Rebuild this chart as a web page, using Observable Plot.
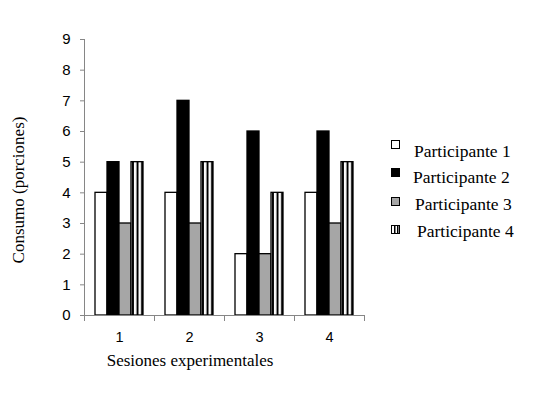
<!DOCTYPE html>
<html><head><meta charset="utf-8">
<script src="https://cdn.jsdelivr.net/npm/d3@7"></script>
<script src="https://cdn.jsdelivr.net/npm/@observablehq/plot@0.6"></script>
<style>
body{margin:0;background:#fff;}
#wrap{position:relative;width:552px;height:395px;overflow:hidden;}
#wrap svg{position:absolute;left:0;top:0;}
.ttl{position:absolute;font-family:"Liberation Serif","Times New Roman",serif;font-size:17px;color:#000;white-space:nowrap;line-height:1;}
.leg{position:absolute;font-family:"Liberation Serif","Times New Roman",serif;font-size:17.5px;color:#000;white-space:nowrap;line-height:1;}
.sw{position:absolute;}
</style></head><body><div id="wrap"></div>
<script>
const sessions = ["1", "2", "3", "4"];
const participants = ["Participante 1", "Participante 2", "Participante 3", "Participante 4"];
const p1 = [4, 4, 2, 4];
const p2 = [5, 7, 6, 6];
const p3 = [3, 3, 2, 3];
const p4 = [5, 5, 4, 5];
const yTicks = [0, 1, 2, 3, 4, 5, 6, 7, 8, 9];
const xTitle = "Sesiones experimentales";
const yTitle = "Consumo (porciones)";

const series = [p1, p2, p3, p4];
const data = sessions.flatMap((s, i) => participants.map((p, j) => ({session: s, participant: p, value: series[j][i]})));
const fills = ["white", "black", "#a6a6a6", "url(#stripes)"];
const axisGray = "#868686";

const plot = Plot.plot({
  width: 552, height: 395,
  marginLeft: 84, marginRight: 188, marginTop: 39, marginBottom: 80,
  style: {fontFamily: "'Liberation Sans', Arial, sans-serif", background: "transparent"},
  fx: {domain: sessions, paddingInner: 0, paddingOuter: 0, label: null},
  x: {domain: participants, paddingInner: 0, paddingOuter: 0.7, axis: null},
  y: {domain: [0, 9], label: null},
  color: {domain: participants, range: fills},
  marks: [
    Plot.barY(data, {fx: "session", x: "participant", y: "value", fill: "participant", stroke: "black", strokeWidth: 1.3}),
    Plot.ruleY([0], {stroke: axisGray, strokeWidth: 1}),
    Plot.frame({anchor: "left", facetAnchor: "left", stroke: axisGray}),
    Plot.frame({anchor: "left", stroke: axisGray, insetTop: 276, insetBottom: -5}),
    Plot.frame({anchor: "right", stroke: axisGray, insetTop: 276, insetBottom: -5}),
    Plot.axisY({ticks: yTicks, tickSize: 4, tickPadding: 10, fontSize: 15, stroke: axisGray, fill: "#000", label: null}),
    Plot.axisFx({anchor: "bottom", tickSize: 0, tickPadding: 16, fontSize: 14.5, fill: "#000", label: null})
  ]
});

const wrap = document.getElementById("wrap");
// pattern for striped bars
const ns = "http://www.w3.org/2000/svg";
const defs = document.createElementNS(ns, "defs");
defs.innerHTML = '<pattern id="stripes" patternUnits="userSpaceOnUse" x="0.5" y="0" width="4.6" height="10"><rect width="4.6" height="10" fill="white"/><rect x="2.6" width="2" height="10" fill="black"/></pattern>';
plot.insertBefore(defs, plot.firstChild);
wrap.appendChild(plot);

function addText(cls, txt, style) {
  const d = document.createElement("div");
  d.className = cls; d.textContent = txt;
  Object.assign(d.style, style);
  wrap.appendChild(d);
  return d;
}
addText("ttl", xTitle, {left: "190px", top: "352px", transform: "translateX(-50%)"});
addText("ttl", yTitle, {left: "18px", top: "190px", transform: "translate(-50%,-50%) rotate(-90deg)"});

// legend
const legTop = [140, 168, 197, 225];
const legTextTop = [143, 169, 196, 223];
const legLeft = [414, 413, 415, 417];
participants.forEach((p, i) => {
  const s = document.createElementNS(ns, "svg");
  s.setAttribute("width", 10); s.setAttribute("height", 10);
  s.setAttribute("class", "sw");
  s.style.left = "391px"; s.style.top = legTop[i] + "px";
  s.innerHTML = i === 3
    ? '<rect x="0.5" y="0.5" width="8" height="8" fill="white" stroke="black"/><rect x="3" y="0.5" width="1.5" height="8" fill="black"/><rect x="6" y="0.5" width="1.5" height="8" fill="black"/>'
    : `<rect x="0.5" y="0.5" width="8" height="8" fill="${fills[i]}" stroke="black"/>`;
  wrap.appendChild(s);
  addText("leg", p, {left: legLeft[i] + "px", top: legTextTop[i] + "px"});
});
</script>
</body></html>
